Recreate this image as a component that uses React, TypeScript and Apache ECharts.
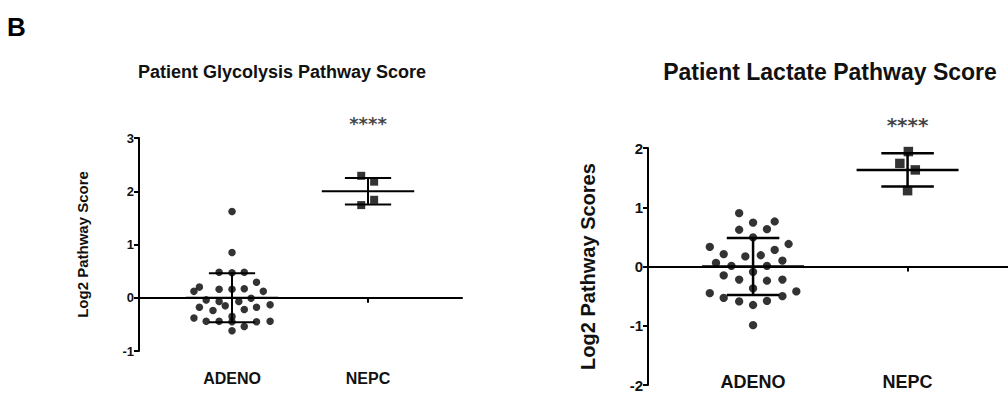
import React, { useEffect, useRef } from "react";
import * as echarts from "echarts";

const CATEGORIES = ["ADENO", "NEPC"];

// Glycolysis (left panel)
const GLY_ADENO_X = [0, 0, -0.095, 0, 0.09, 0.18, -0.24, -0.28, -0.095, 0, 0.09, 0.23, -0.19, 0.14, -0.095, -0.05, 0.05, 0.28, -0.24, -0.14, 0.09, 0.18, -0.28, -0.19, -0.095, 0, 0, 0.18, 0.28, 0.09, 0];
const GLY_ADENO_Y = [1.62, 0.85, 0.48, 0.47, 0.48, 0.29, 0.2, 0.12, 0.16, 0.16, 0.17, 0.12, -0.04, -0.01, -0.07, -0.15, -0.07, -0.13, -0.18, -0.24, -0.22, -0.18, -0.38, -0.44, -0.44, -0.35, -0.45, -0.45, -0.44, -0.54, -0.62];
const GLY_NEPC_X = [-0.05, 0.045, 0.045, -0.05];
const GLY_NEPC_Y = [2.29, 2.18, 1.84, 1.74];
const GLY_MEAN = [0, 2.0];
const GLY_SD = [0.46, 0.25];
const GLY_SIG_Y = 3.27;

// Lactate (right panel)
const LAC_ADENO_X = [-0.09, 0, 0.14, -0.09, 0.09, 0, -0.28, 0.23, -0.19, -0.05, 0.05, 0.14, -0.24, 0.19, -0.14, 0.09, 0, -0.19, -0.09, 0.09, 0.19, 0, -0.28, -0.19, -0.09, 0, 0.09, 0.19, 0.28, 0];
const LAC_ADENO_Y = [0.9, 0.74, 0.76, 0.62, 0.63, 0.49, 0.33, 0.38, 0.21, 0.17, 0.19, 0.28, 0.06, 0.1, 0.01, 0.01, -0.09, -0.15, -0.22, -0.24, -0.22, -0.37, -0.45, -0.53, -0.59, -0.65, -0.58, -0.5, -0.42, -0.99];
const LAC_NEPC_X = [0.005, -0.05, 0.05, 0];
const LAC_NEPC_Y = [1.94, 1.74, 1.63, 1.28];
const LAC_MEAN = [0, 1.63];
const LAC_SD = [0.48, 0.28];
const LAC_SIG_Y = 2.39;

const SIG_TEXT = "****";
const FONT = "'Liberation Sans', Arial, sans-serif";

const pts = (xs: number[], ys: number[], cat: number) => ys.map((y, i) => [cat + xs[i], y]);

const renderMeanSd = (halfMean: number, halfCap: number, lw: number) => (params: any, api: any) => {
  const x = api.value(0);
  const m = api.value(1);
  const s = api.value(2);
  const c = api.coord([x, m]);
  const t = api.coord([x, m + s]);
  const b = api.coord([x, m - s]);
  const hm = api.size([halfMean, 0])[0];
  const hc = api.size([halfCap, 0])[0];
  const style = { stroke: "#000", lineWidth: lw };
  return {
    type: "group",
    children: [
      { type: "line", shape: { x1: c[0] - hm, y1: c[1], x2: c[0] + hm, y2: c[1] }, style },
      { type: "line", shape: { x1: t[0], y1: t[1], x2: b[0], y2: b[1] }, style },
      { type: "line", shape: { x1: t[0] - hc, y1: t[1], x2: t[0] + hc, y2: t[1] }, style },
      { type: "line", shape: { x1: b[0] - hc, y1: b[1], x2: b[0] + hc, y2: b[1] }, style },
    ],
  };
};

const zeroAxis = (grid: number, min: number, max: number, lw: number) => ({
  type: "value",
  gridIndex: grid,
  min,
  max,
  position: "bottom",
  axisLine: { show: true, onZero: true, lineStyle: { color: "#000", width: lw } },
  axisTick: { show: true, customValues: [0, 1], length: 5, lineStyle: { color: "#000", width: 2 } },
  axisLabel: { show: false },
  splitLine: { show: false },
});

const labelAxis = (grid: number, min: number, max: number, size: number, margin: number) => ({
  type: "value",
  gridIndex: grid,
  min,
  max,
  position: "bottom",
  axisLine: { show: false, onZero: false },
  axisTick: { show: false },
  splitLine: { show: false },
  axisLabel: {
    show: true,
    customValues: [0, 1],
    formatter: (v: number) => CATEGORIES[Math.round(v)] ?? "",
    fontSize: size,
    fontWeight: "bold",
    color: "#111",
    fontFamily: FONT,
    margin,
  },
});

const yAxis = (grid: number, min: number, max: number, size: number, name: string, nameSize: number, nameGap: number) => ({
  type: "value",
  gridIndex: grid,
  min,
  max,
  interval: 1,
  name,
  nameLocation: "middle",
  nameRotate: 90,
  nameGap,
  nameTextStyle: { fontSize: nameSize, fontWeight: "bold", color: "#111", fontFamily: FONT },
  axisLine: { show: true, onZero: false, lineStyle: { color: "#000", width: 2 } },
  axisTick: { show: true, length: 5, lineStyle: { color: "#000", width: 2 } },
  axisLabel: { fontSize: size, fontWeight: "bold", color: "#111", fontFamily: FONT, margin: 5 },
  splitLine: { show: false },
});

const option: any = {
  animation: false,
  backgroundColor: "#fff",
  title: [
    {
      text: "Patient Glycolysis Pathway Score",
      left: 282,
      top: 63,
      textAlign: "center",
      padding: 0,
      textStyle: { fontSize: 18, fontWeight: "bold", color: "#111", fontFamily: FONT },
    },
    {
      text: "Patient Lactate Pathway Score",
      left: 830,
      top: 60,
      textAlign: "center",
      padding: 0,
      textStyle: { fontSize: 23, fontWeight: "bold", color: "#111", fontFamily: FONT },
    },
  ],
  graphic: [
    { type: "text", left: 7, top: 14, style: { text: "B", fontSize: 26, fontWeight: "bold", fill: "#000", fontFamily: FONT } },
  ],
  grid: [
    { left: 139, top: 138, width: 323, height: 213 },
    { left: 648, top: 148, width: 360, height: 237 },
  ],
  xAxis: [
    zeroAxis(0, -0.684, 1.691, 2),
    labelAxis(0, -0.684, 1.691, 16, 19),
    zeroAxis(1, -0.68, 1.65, 2),
    labelAxis(1, -0.68, 1.65, 18, -12),
  ],
  yAxis: [
    yAxis(0, -1, 3, 13, "Log2 Pathway Score", 15, 49),
    yAxis(1, -2, 2, 15, "Log2 Pathway Scores", 20, 50),
  ],
  series: [
    {
      type: "scatter",
      xAxisIndex: 0,
      yAxisIndex: 0,
      symbol: "circle",
      symbolSize: 7.5,
      itemStyle: { color: "#000" },
      data: pts(GLY_ADENO_X, GLY_ADENO_Y, 0),
    },
    {
      type: "scatter",
      xAxisIndex: 0,
      yAxisIndex: 0,
      symbol: "rect",
      symbolSize: 8,
      itemStyle: { color: "#000" },
      data: pts(GLY_NEPC_X, GLY_NEPC_Y, 1),
    },
    {
      type: "custom",
      xAxisIndex: 0,
      yAxisIndex: 0,
      renderItem: renderMeanSd(0.34, 0.17, 2),
      encode: { x: 0, y: 1 },
      data: GLY_MEAN.map((m, i) => [i, m, GLY_SD[i]]),
    },
    {
      type: "scatter",
      xAxisIndex: 0,
      yAxisIndex: 0,
      symbolSize: 0,
      clip: false,
      silent: true,
      label: { show: true, position: "inside", formatter: SIG_TEXT, fontSize: 18, fontWeight: "bold", color: "#111", fontFamily: "'DejaVu Sans', sans-serif" },
      data: [[1, GLY_SIG_Y]],
    },
    {
      type: "scatter",
      xAxisIndex: 2,
      yAxisIndex: 1,
      symbol: "circle",
      symbolSize: 8.3,
      itemStyle: { color: "#000" },
      data: pts(LAC_ADENO_X, LAC_ADENO_Y, 0),
    },
    {
      type: "scatter",
      xAxisIndex: 2,
      yAxisIndex: 1,
      symbol: "rect",
      symbolSize: 9.5,
      itemStyle: { color: "#000" },
      data: pts(LAC_NEPC_X, LAC_NEPC_Y, 1),
    },
    {
      type: "custom",
      xAxisIndex: 2,
      yAxisIndex: 1,
      renderItem: renderMeanSd(0.33, 0.17, 2.5),
      encode: { x: 0, y: 1 },
      data: LAC_MEAN.map((m, i) => [i, m, LAC_SD[i]]),
    },
    {
      type: "scatter",
      xAxisIndex: 2,
      yAxisIndex: 1,
      symbolSize: 0,
      clip: false,
      silent: true,
      label: { show: true, position: "inside", formatter: SIG_TEXT, fontSize: 20, fontWeight: "bold", color: "#111", fontFamily: "'DejaVu Sans', sans-serif" },
      data: [[1, LAC_SIG_Y]],
    },
  ],
};

export default function App() {
  const ref = useRef<HTMLDivElement>(null);
  useEffect(() => {
    const chart = echarts.init(ref.current!, null, { renderer: "svg" });
    chart.setOption(option);
    return () => chart.dispose();
  }, []);
  return (
    <div
      ref={ref}
      style={{ position: "absolute", left: 0, top: 0, width: 1008, height: 394, background: "#fff" }}
    />
  );
}
